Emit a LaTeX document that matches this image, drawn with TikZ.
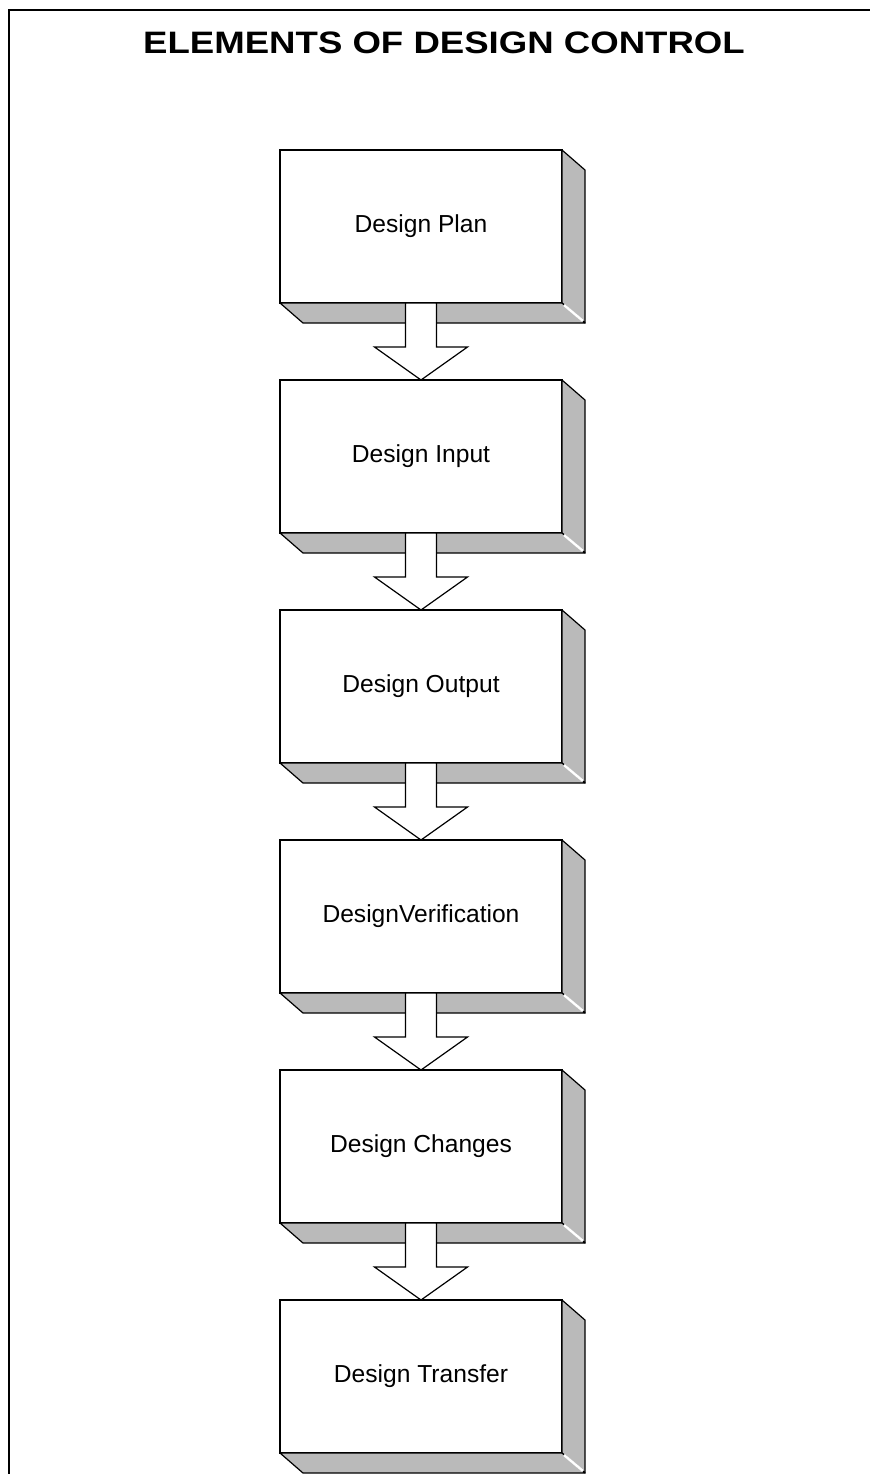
\documentclass[tikz,border=0pt]{standalone}
\usepackage{fontspec}
\setmainfont{Liberation Sans}
\usetikzlibrary{positioning}

\tikzset{
	designbox/.style = {draw, fill = white, line width = 0.6pt, minimum width = 141pt, minimum height = 76.5pt, inner sep = 0pt, outer sep = 0pt, font = \fontsize{12.3pt}{14pt}\selectfont},
	boxside/.style = {draw, fill = black!27, line width = 0.6pt, line join = round},
	flowarrow/.style = {draw, fill = white, line width = 0.6pt, line join = miter}
}

\begin{document}
\begin{tikzpicture} [x = 0.5pt, y = -0.5pt, node distance = 38.5pt]
	\useasboundingbox (0,0) rectangle (870,1474);
	% frame
	\draw [line width = 1pt] (870,10) -- (9,10) -- (9,1474);
	\node (title) [anchor = base, font = \fontsize{15.5pt}{18pt}\selectfont\bfseries] at (444,53) {\scalebox{1.18}[1]{ELEMENTS OF DESIGN CONTROL}};
	% the six steps
	\node (plan) [designbox, anchor = north west] at (280,150) {Design Plan};
	\node (input) [designbox, below = of plan] {Design Input};
	\node (output) [designbox, below = of input] {Design Output};
	\node (verify) [designbox, below = of output] {DesignVerification};
	\node (changes) [designbox, below = of verify] {Design Changes};
	\node (transfer) [designbox, below = of changes] {Design Transfer};
	% shaded sides
	\foreach \b in {plan, input, output, verify, changes, transfer} {
		\draw [boxside] (\b.north east) -- ++(23,20) -- ++(0,153) -- (\b.south east) -- cycle;
		\draw [boxside] (\b.south west) -- (\b.south east) -- ++(23,20) -- ([shift = {(23,20)}]\b.south west) -- cycle;
		\draw [white, line width = 1.2pt] ([shift = {(2,2)}]\b.south east) -- ([shift = {(21,18)}]\b.south east);
	}
	% block arrows
	\foreach \a/\b in {plan/input, input/output, output/verify, verify/changes, changes/transfer}
		\draw [flowarrow] ([shift = {(-15.5,0)}]\a.south) -- ++(0,44) -- ++(-31,0) -- (\b.north) -- ++(46.5,-33) -- ++(-31,0) -- ([shift = {(15.5,0)}]\a.south) -- cycle;
\end{tikzpicture}
\end{document}
